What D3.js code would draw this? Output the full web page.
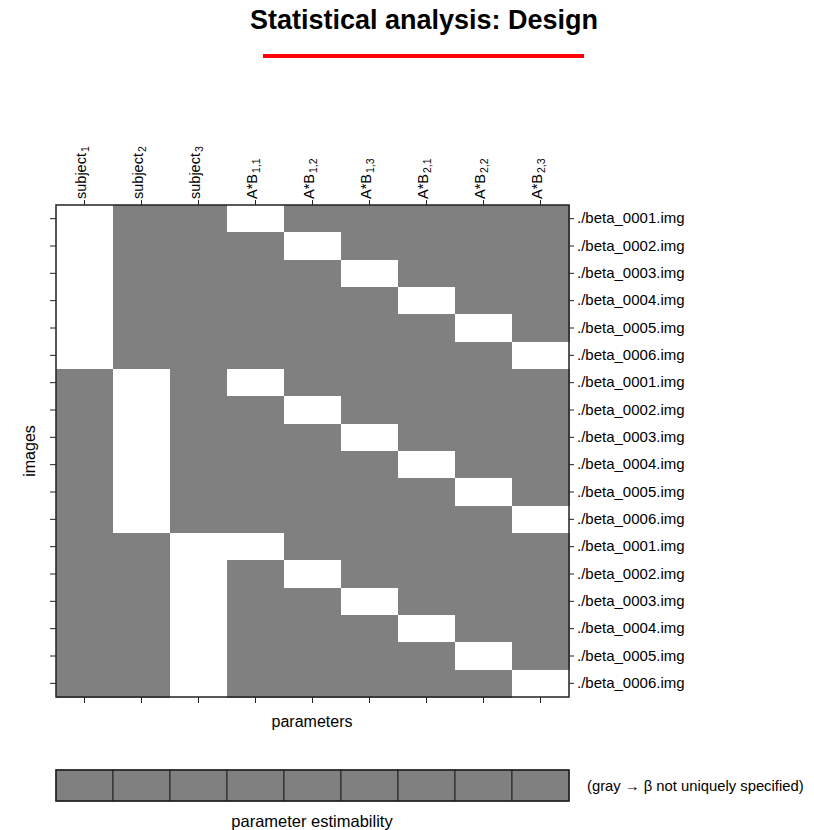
<!DOCTYPE html>
<html>
<head>
<meta charset="utf-8">
<script src="https://cdn.jsdelivr.net/npm/d3@7"></script>
<style>
  body { margin: 0; background: #fff; }
  svg { font-family: "Liberation Sans", Arial, sans-serif; }
</style>
</head>
<body>
<svg width="814" height="830"></svg>
<script>
const paramNames = ["subject", "subject", "subject", "A*B", "A*B", "A*B", "A*B", "A*B", "A*B"];
const paramSubs = ["1", "2", "3", "1,1", "1,2", "1,3", "2,1", "2,2", "2,3"];

const images = [
  "./beta_0001.img", "./beta_0002.img", "./beta_0003.img",
  "./beta_0004.img", "./beta_0005.img", "./beta_0006.img",
  "./beta_0001.img", "./beta_0002.img", "./beta_0003.img",
  "./beta_0004.img", "./beta_0005.img", "./beta_0006.img",
  "./beta_0001.img", "./beta_0002.img", "./beta_0003.img",
  "./beta_0004.img", "./beta_0005.img", "./beta_0006.img"
];

// design matrix, one row per image, one column per parameter
const design = [
  [1, 0, 0, 1, 0, 0, 0, 0, 0],
  [1, 0, 0, 0, 1, 0, 0, 0, 0],
  [1, 0, 0, 0, 0, 1, 0, 0, 0],
  [1, 0, 0, 0, 0, 0, 1, 0, 0],
  [1, 0, 0, 0, 0, 0, 0, 1, 0],
  [1, 0, 0, 0, 0, 0, 0, 0, 1],
  [0, 1, 0, 1, 0, 0, 0, 0, 0],
  [0, 1, 0, 0, 1, 0, 0, 0, 0],
  [0, 1, 0, 0, 0, 1, 0, 0, 0],
  [0, 1, 0, 0, 0, 0, 1, 0, 0],
  [0, 1, 0, 0, 0, 0, 0, 1, 0],
  [0, 1, 0, 0, 0, 0, 0, 0, 1],
  [0, 0, 1, 1, 0, 0, 0, 0, 0],
  [0, 0, 1, 0, 1, 0, 0, 0, 0],
  [0, 0, 1, 0, 0, 1, 0, 0, 0],
  [0, 0, 1, 0, 0, 0, 1, 0, 0],
  [0, 0, 1, 0, 0, 0, 0, 1, 0],
  [0, 0, 1, 0, 0, 0, 0, 0, 1]
];

// 0 = gray (not uniquely specified)
const estimability = [0, 0, 0, 0, 0, 0, 0, 0, 0];

const main = function() {
  const svg = d3.select("svg");
  const left = 56, right = 569, top = 205, bottom = 697;

  // title
  svg.append("text")
    .attr("x", 424).attr("y", 29)
    .attr("text-anchor", "middle")
    .style("font-size", "27px").style("font-weight", "bold")
    .text("Statistical analysis: Design");
  svg.append("line")
    .attr("x1", 263).attr("x2", 584).attr("y1", 56).attr("y2", 56)
    .attr("stroke", "#f00").attr("stroke-width", 4);

  const cols = d3.range(paramNames.length);
  const rows = d3.range(images.length);
  const x = d3.scaleBand().domain(cols).range([left, right]);
  const y = d3.scaleBand().domain(rows).range([top, bottom]);
  const shade = d3.scaleLinear().domain([-1, 1]).range(["#000", "#fff"]);

  const cells = [];
  design.forEach((r, i) => r.forEach((v, j) => cells.push({ i, j, v })));

  svg.append("g")
    .attr("shape-rendering", "crispEdges")
    .selectAll("rect")
    .data(cells)
    .enter()
    .append("rect")
    .attr("x", d => x(d.j))
    .attr("y", d => y(d.i))
    .attr("width", x.bandwidth() + 0.5)
    .attr("height", y.bandwidth() + 0.5)
    .attr("fill", d => shade(d.v));

  svg.append("rect")
    .attr("x", left).attr("y", top)
    .attr("width", right - left).attr("height", bottom - top)
    .attr("fill", "none").attr("stroke", "#222").attr("stroke-width", 1.5);

  // axes
  const axTop = svg.append("g").attr("transform", `translate(0,${top})`)
    .call(d3.axisTop(x).tickSize(5).tickFormat(""));
  const axBottom = svg.append("g").attr("transform", `translate(0,${bottom})`)
    .call(d3.axisBottom(x).tickSize(6).tickFormat(""));
  const axLeft = svg.append("g").attr("transform", `translate(${left},0)`)
    .call(d3.axisLeft(y).tickSize(6).tickFormat(""));
  const axRight = svg.append("g").attr("transform", `translate(${right},0)`)
    .call(d3.axisRight(y).tickSize(5).tickPadding(3).tickFormat(i => images[i]));
  [axTop, axBottom, axLeft, axRight].forEach(a => {
    a.select(".domain").remove();
    a.selectAll("line").attr("stroke", "#222");
  });
  axRight.selectAll("text")
    .style("font-size", "15px")
    .style("font-family", "'Liberation Sans', Arial, sans-serif")
    .attr("fill", "#000");

  // column labels with subscripts
  const lab = svg.append("g")
    .selectAll("text")
    .data(cols)
    .enter()
    .append("text")
    .attr("transform", d => `translate(${x(d) + x.bandwidth() / 2 + 1},199) rotate(-90)`)
    .style("font-size", "14.5px");
  lab.append("tspan").text(d => paramNames[d]);
  lab.append("tspan")
    .attr("dx", 1)
    .attr("dy", 3)
    .style("font-size", "10.5px")
    .text(d => paramSubs[d]);

  svg.append("text")
    .attr("transform", "translate(35,451) rotate(-90)")
    .attr("text-anchor", "middle")
    .style("font-size", "16px")
    .text("images");

  svg.append("text")
    .attr("x", 312).attr("y", 727)
    .attr("text-anchor", "middle")
    .style("font-size", "16px")
    .text("parameters");

  // estimability bar
  const barTop = 770, barH = 31;
  svg.append("g")
    .selectAll("rect")
    .data(estimability)
    .enter()
    .append("rect")
    .attr("x", (d, j) => x(j))
    .attr("y", barTop)
    .attr("width", x.bandwidth())
    .attr("height", barH)
    .attr("fill", d => d ? "#fff" : "#808080")
    .attr("stroke", "#222")
    .attr("stroke-width", 1);
  svg.append("rect")
    .attr("x", left).attr("y", barTop)
    .attr("width", right - left).attr("height", barH)
    .attr("fill", "none").attr("stroke", "#222").attr("stroke-width", 1.5);

  svg.append("text")
    .attr("x", 587).attr("y", 791)
    .style("font-size", "14.8px")
    .text("(gray \u2192 \u03b2 not uniquely specified)");

  svg.append("text")
    .attr("x", 312).attr("y", 827)
    .attr("text-anchor", "middle")
    .style("font-size", "16.5px")
    .text("parameter estimability");
};

window.onload = main;
</script>
</body>
</html>
